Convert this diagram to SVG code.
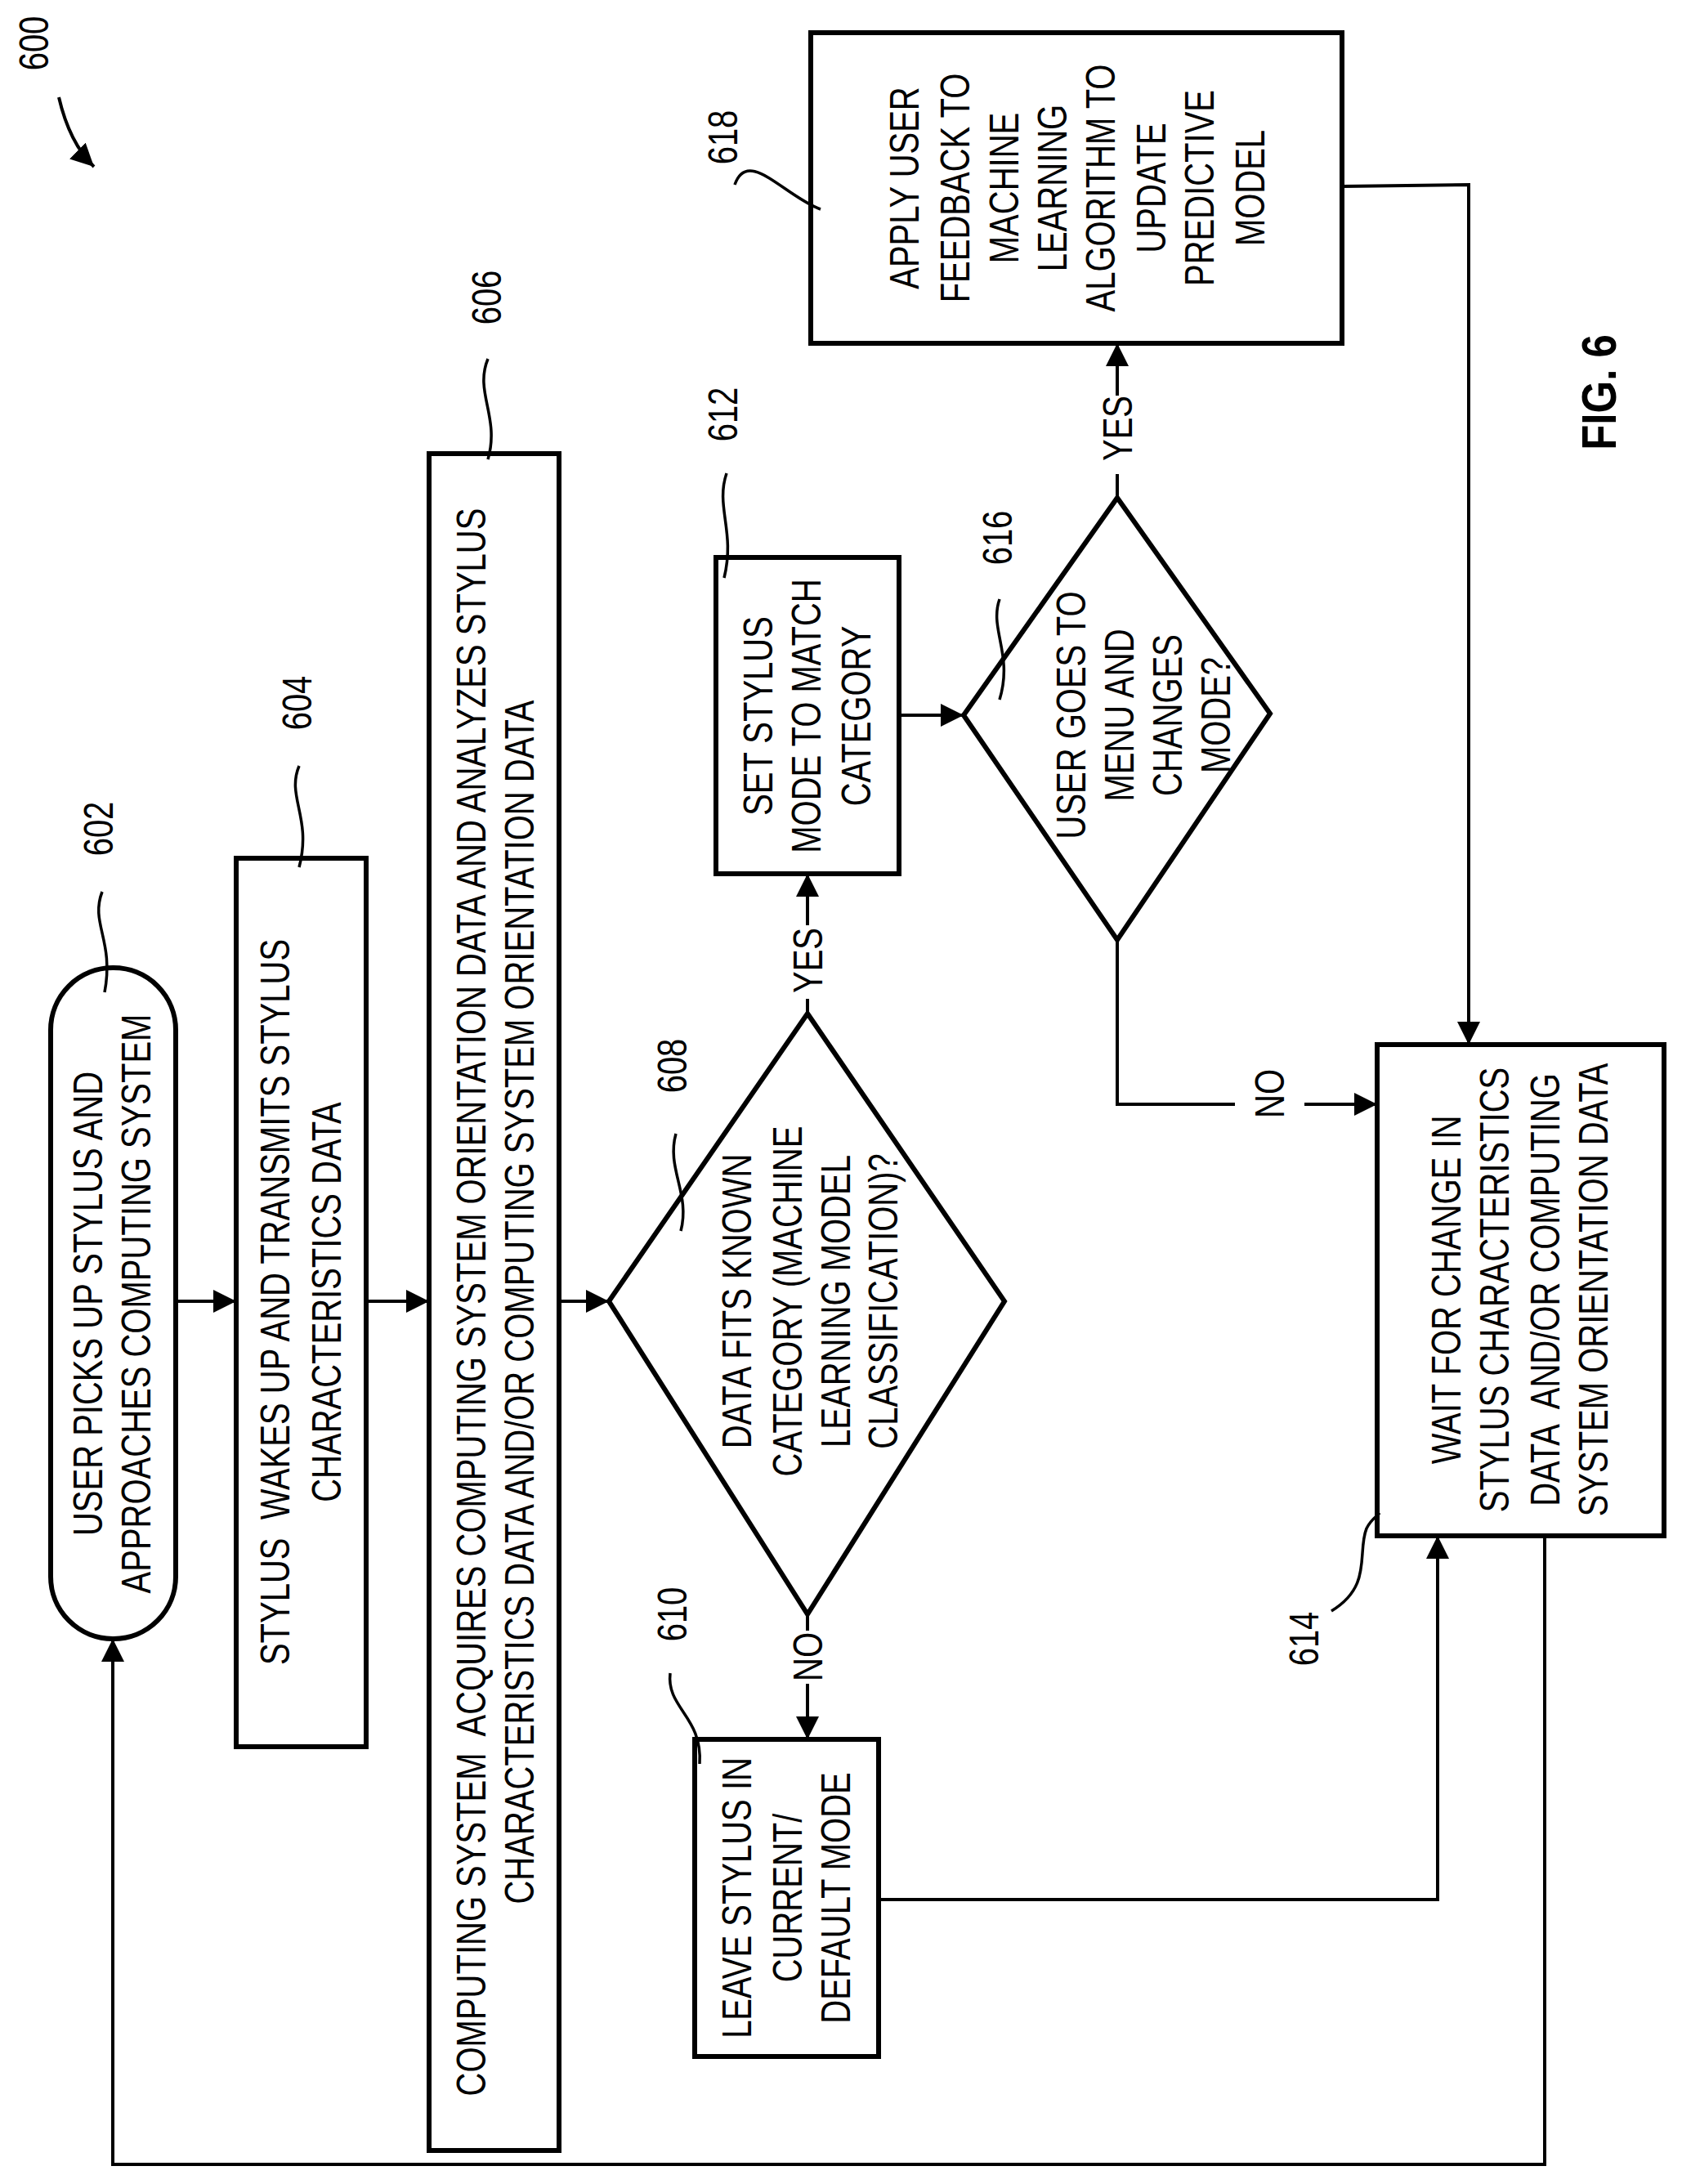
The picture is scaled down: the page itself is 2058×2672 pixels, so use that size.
<svg xmlns="http://www.w3.org/2000/svg" width="2058" height="2672" viewBox="0 0 2058 2672">
<style>
.b{fill:none;stroke:#000;stroke-width:6}
.c{fill:none;stroke:#000;stroke-width:4}
.l{fill:none;stroke:#000;stroke-width:3.5}
text{font-family:"Liberation Sans",Arial,sans-serif;font-size:50px;fill:#000}
.m{text-anchor:middle}
.f{font-weight:bold;font-size:60px}
</style>
<defs>
<marker id="a" viewBox="0 0 10 10" refX="10" refY="5" markerWidth="7" markerHeight="7" markerUnits="strokeWidth" orient="auto"><path d="M0,0 L10,5 L0,10 z"/></marker>
</defs>
<rect width="2058" height="2672" fill="#fff"/>
<g id="label600">
<text class="m" transform="translate(59,53) rotate(-90) scale(0.8,1)">600</text>
<path class="c" d="M72,119 Q85,175 115,204" marker-end="url(#a)"/>
</g>
<g id="n602">
<rect class="b" x="62" y="1184" width="153" height="821" rx="76"/>
<text class="m" transform="translate(125,1595) rotate(-90) scale(0.8,1)">USER PICKS UP STYLUS AND</text>
<text class="m" transform="translate(184,1595) rotate(-90) scale(0.8,1)">APPROACHES COMPUTING SYSTEM</text>
<text class="m" transform="translate(138,1014) rotate(-90) scale(0.8,1)">602</text>
<path class="l" d="M125,1091 C110,1130 140,1150 128,1214"/>
</g>
<g id="n604">
<rect class="b" x="289" y="1050" width="159" height="1087"/>
<text class="m" transform="translate(354,1593) rotate(-90) scale(0.8,1)" xml:space="preserve">STYLUS  WAKES UP AND TRANSMITS STYLUS</text>
<text class="m" transform="translate(417,1593) rotate(-90) scale(0.8,1)">CHARACTERISTICS DATA</text>
<text class="m" transform="translate(381,860) rotate(-90) scale(0.8,1)">604</text>
<path class="l" d="M366,937 C350,975 382,1000 366,1061"/>
</g>
<g id="n606">
<rect class="b" x="525" y="555" width="159" height="2076"/>
<text class="m" transform="translate(594,1593) rotate(-90) scale(0.8,1)" xml:space="preserve">COMPUTING SYSTEM  ACQUIRES COMPUTING SYSTEM ORIENTATION DATA AND ANALYZES STYLUS</text>
<text class="m" transform="translate(653,1593) rotate(-90) scale(0.8,1)">CHARACTERISTICS DATA AND/OR COMPUTING SYSTEM ORIENTATION DATA</text>
<text class="m" transform="translate(613,364) rotate(-90) scale(0.8,1)">606</text>
<path class="l" d="M597,439 C580,480 612,510 597,562"/>
</g>
<g id="n608">
<polygon class="b" points="988,1240 1229,1592 988,1975 745,1592"/>
<text class="m" transform="translate(919,1592) rotate(-90) scale(0.8,1)">DATA FITS KNOWN</text>
<text class="m" transform="translate(981,1592) rotate(-90) scale(0.8,1)">CATEGORY (MACHINE</text>
<text class="m" transform="translate(1040,1592) rotate(-90) scale(0.8,1)">LEARNING MODEL</text>
<text class="m" transform="translate(1098,1592) rotate(-90) scale(0.8,1)">CLASSIFICATION)?</text>
<text class="m" transform="translate(840,1304) rotate(-90) scale(0.8,1)">608</text>
<path class="l" d="M827,1387 C815,1430 845,1460 833,1506"/>
</g>
<g id="n610">
<rect class="b" x="850" y="2128" width="225" height="388"/>
<text class="m" transform="translate(919,2322) rotate(-90) scale(0.8,1)">LEAVE STYLUS IN</text>
<text class="m" transform="translate(981,2322) rotate(-90) scale(0.8,1)">CURRENT/</text>
<text class="m" transform="translate(1040,2322) rotate(-90) scale(0.8,1)">DEFAULT MODE</text>
<text class="m" transform="translate(840,1975) rotate(-90) scale(0.8,1)">610</text>
<path class="l" d="M820,2047 C815,2090 860,2100 856,2158"/>
</g>
<g id="n612">
<rect class="b" x="876" y="682" width="224" height="387"/>
<text class="m" transform="translate(945,876) rotate(-90) scale(0.8,1)">SET STYLUS</text>
<text class="m" transform="translate(1004,876) rotate(-90) scale(0.8,1)">MODE TO MATCH</text>
<text class="m" transform="translate(1065,876) rotate(-90) scale(0.8,1)">CATEGORY</text>
<text class="m" transform="translate(902,507) rotate(-90) scale(0.8,1)">612</text>
<path class="l" d="M889,579 C875,620 900,650 886,707"/>
</g>
<g id="n616">
<polygon class="b" points="1367,609 1554,873 1367,1150 1179,875"/>
<text class="m" transform="translate(1328,875) rotate(-90) scale(0.8,1)">USER GOES TO</text>
<text class="m" transform="translate(1387,875) rotate(-90) scale(0.8,1)">MENU AND</text>
<text class="m" transform="translate(1446,875) rotate(-90) scale(0.8,1)">CHANGES</text>
<text class="m" transform="translate(1505,875) rotate(-90) scale(0.8,1)">MODE?</text>
<text class="m" transform="translate(1238,658) rotate(-90) scale(0.8,1)">616</text>
<path class="l" d="M1223,733 C1210,770 1240,800 1223,856"/>
</g>
<g id="n618">
<rect class="b" x="992" y="40" width="650" height="380"/>
<text class="m" transform="translate(1124,230) rotate(-90) scale(0.8,1)">APPLY USER</text>
<text class="m" transform="translate(1186,230) rotate(-90) scale(0.8,1)">FEEDBACK TO</text>
<text class="m" transform="translate(1246,230) rotate(-90) scale(0.8,1)">MACHINE</text>
<text class="m" transform="translate(1305,230) rotate(-90) scale(0.8,1)">LEARNING</text>
<text class="m" transform="translate(1364,230) rotate(-90) scale(0.8,1)">ALGORITHM TO</text>
<text class="m" transform="translate(1426,230) rotate(-90) scale(0.8,1)">UPDATE</text>
<text class="m" transform="translate(1485,230) rotate(-90) scale(0.8,1)">PREDICTIVE</text>
<text class="m" transform="translate(1547,230) rotate(-90) scale(0.8,1)">MODEL</text>
<text class="m" transform="translate(902,168) rotate(-90) scale(0.8,1)">618</text>
<path class="l" d="M899,226 C915,180 960,240 1004,256"/>
</g>
<g id="n614">
<rect class="b" x="1685" y="1278" width="351" height="601"/>
<text class="m" transform="translate(1787,1578) rotate(-90) scale(0.8,1)">WAIT FOR CHANGE IN</text>
<text class="m" transform="translate(1846,1578) rotate(-90) scale(0.8,1)">STYLUS CHARACTERISTICS</text>
<text class="m" transform="translate(1908,1578) rotate(-90) scale(0.8,1)" xml:space="preserve">DATA  AND/OR COMPUTING</text>
<text class="m" transform="translate(1967,1578) rotate(-90) scale(0.8,1)">SYSTEM ORIENTATION DATA</text>
<text class="m" transform="translate(1613,2005) rotate(-90) scale(0.8,1)">614</text>
<path class="l" d="M1629,1971 C1680,1940 1660,1900 1672,1870 C1678,1858 1685,1855 1688,1851"/>
</g>
<g id="fig">
<text class="m f" transform="translate(1977,480) rotate(-90) scale(0.85,1)">FIG. 6</text>
</g>
<g id="connectors">
<path class="c" d="M215,1592 H289" marker-end="url(#a)"/>
<path class="c" d="M448,1592 H525" marker-end="url(#a)"/>
<path class="c" d="M684,1592 H745" marker-end="url(#a)"/>
<path class="c" d="M988,1240 V1222"/>
<path class="c" d="M988,1132 V1069" marker-end="url(#a)"/>
<text class="m" transform="translate(1006,1175) rotate(-90) scale(0.8,1)">YES</text>
<path class="c" d="M988,1975 V1995"/>
<path class="c" d="M988,2060 V2128" marker-end="url(#a)"/>
<text class="m" transform="translate(1006,2027) rotate(-90) scale(0.8,1)">NO</text>
<path class="c" d="M1100,875 H1179" marker-end="url(#a)"/>
<path class="c" d="M1367,609 V580"/>
<path class="c" d="M1367,484 V420" marker-end="url(#a)"/>
<text class="m" transform="translate(1385,524) rotate(-90) scale(0.8,1)">YES</text>
<path class="c" d="M1367,1150 V1351 H1511"/>
<path class="c" d="M1596,1351 H1685" marker-end="url(#a)"/>
<text class="m" transform="translate(1571,1338) rotate(-90) scale(0.8,1)">NO</text>
<path class="c" d="M1642,228 L1797,226 V1278" marker-end="url(#a)"/>
<path class="c" d="M1075,2324 H1759 V1879" marker-end="url(#a)"/>
<path class="c" d="M1890,1879 V2648 H138 V2005" marker-end="url(#a)"/>
</g>
</svg>
